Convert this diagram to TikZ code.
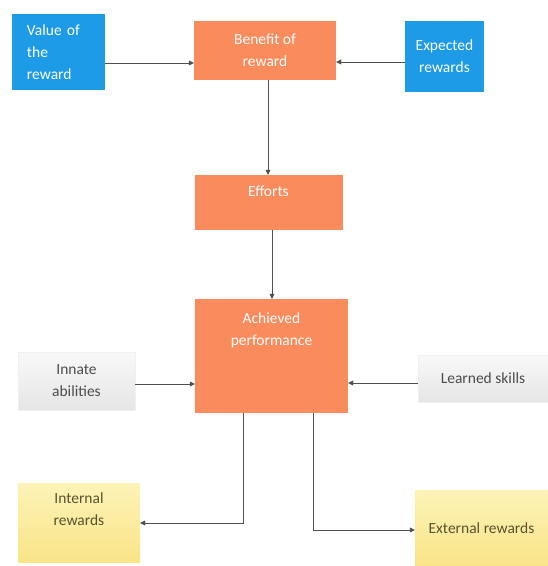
\documentclass[tikz,border=0pt]{standalone}
\usepackage{fontspec}
\setmainfont{Carlito}
\usetikzlibrary{arrows.meta,positioning}
\definecolor{boxblue}{HTML}{1E9BE6}
\definecolor{boxorange}{HTML}{FA8B5C}
\definecolor{arrowgray}{HTML}{505050}
\definecolor{yellowtop}{HTML}{FDF3B8}
\definecolor{yellowbot}{HTML}{F9E487}
\definecolor{yellowtext}{HTML}{5A5230}

\tikzset{
  box/.style={rectangle, inner sep=0pt, align=center, font=\fontsize{15.5}{22}\selectfont},
  bluebox/.style={box, fill=boxblue, text=white},
  orangebox/.style={box, fill=boxorange, text=white},
  graybox/.style={box, top color=gray!5, bottom color=gray!20, draw=gray!12, text=black!70},
  yellowbox/.style={box, top color=yellowtop, bottom color=yellowbot, text=yellowtext},
  toptext/.style={anchor=north, align=center, inner sep=0pt, font=\fontsize{15.5}{22}\selectfont},
  arr/.style={draw=arrowgray, thin, -{Triangle[length=5pt,width=5pt]}}
}

\begin{document}
\begin{tikzpicture}[x=1pt, y=-1pt]
    \useasboundingbox (0,0) rectangle (548,566);

    \node[bluebox, minimum width=93pt, minimum height=76pt, text width=63pt, align=left] (value) at (58.5, 52) {Value of\\the\\reward};
    \node[orangebox, minimum width=142pt, minimum height=59pt] (benefit) at (265, 50.5) {Benefit of\\reward};
    \node[bluebox, minimum width=79pt, minimum height=71pt] (expected) at (444.5, 56.5) {Expected\\rewards};

    \node[orangebox, minimum width=148pt, minimum height=55pt,
      label={[toptext, text=white, yshift=-11pt]north:Efforts}] (efforts) at (268.5, 202.5) {};
    \node[orangebox, minimum width=153pt, minimum height=114pt,
      label={[toptext, text=white, yshift=-14pt]north:Achieved\\performance}] (achieved) at (271.5, 356) {};

    \node[graybox, minimum width=117pt, minimum height=58pt] (innate) at (76.5, 381) {Innate\\abilities};
    \node[graybox, minimum width=130pt, minimum height=47pt] (learned) at (483, 378.5) {Learned skills};

    \node[yellowbox, minimum width=122pt, minimum height=79pt,
      label={[toptext, text=yellowtext, yshift=-10pt]north:Internal\\rewards}] (internal) at (79, 522.5) {};
    \node[yellowbox, minimum width=133pt, minimum height=76pt] (external) at (481.5, 528) {External rewards};

    % top row into the benefit box
    \draw[arr] ([yshift=-11pt]value.east) -- ([yshift=-11pt]value.east -| benefit.west);
    \draw[arr] ([yshift=-5.5pt]expected.west) -- ([yshift=-5.5pt]expected.west -| benefit.east);

    % down the middle
    \draw[arr] ([xshift=3pt]benefit.south) -- ([xshift=3pt]benefit.south |- efforts.north);
    \draw[arr] ([xshift=3.5pt]efforts.south) -- ([xshift=3.5pt]efforts.south |- achieved.north);

    % sides into performance
    \draw[arr] ([yshift=-3pt]innate.east) -- ([yshift=-3pt]innate.east -| achieved.west);
    \draw[arr] ([yshift=-4.5pt]learned.west) -- ([yshift=-4.5pt]learned.west -| achieved.east);

    % rewards
    \draw[arr] ([xshift=-28.5pt]achieved.south) |- ([yshift=-0.5pt]internal.east);
    \draw[arr] ([xshift=41.5pt]achieved.south) |- ([yshift=-2pt]external.west);
\end{tikzpicture}
\end{document}
